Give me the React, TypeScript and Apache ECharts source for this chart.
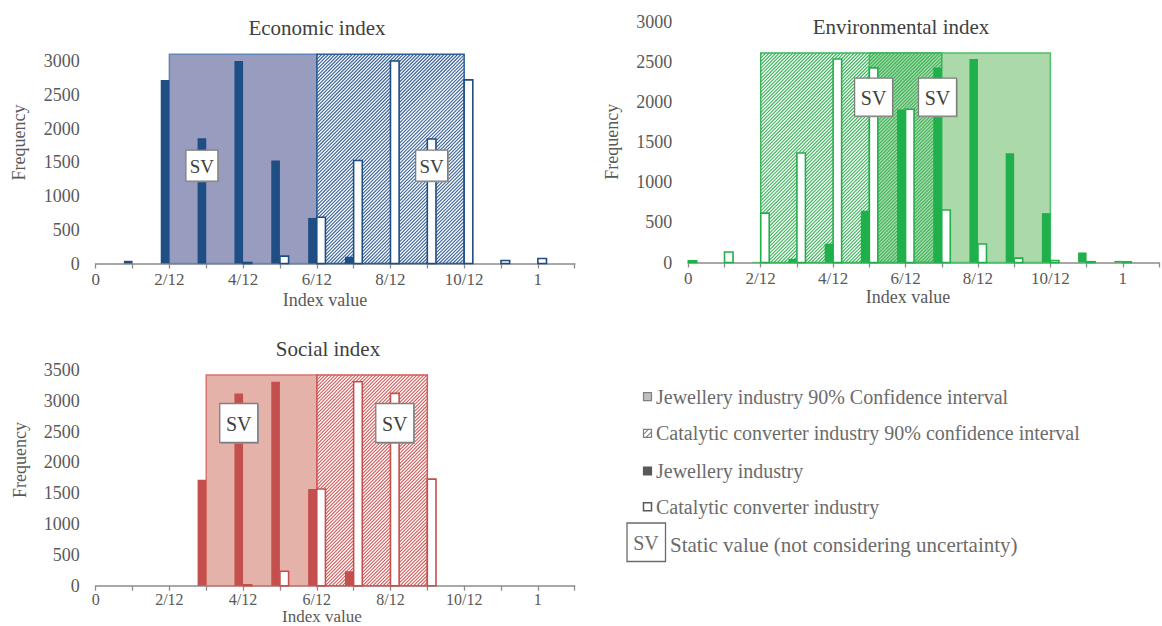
import React, { useEffect, useRef } from 'react';
import * as echarts from 'echarts';

// ---------- data ----------
const bins = [0, 1, 2, 3, 4, 5, 6, 7, 8, 9, 10, 11, 12]; // index value in twelfths
const xTickLabels = ['0', '', '2/12', '', '4/12', '', '6/12', '', '8/12', '', '10/12', '', '1', ''];

const econJewellery = [0, 40, 2720, 1855, 3000, 1525, 675, 100, 0, 0, 0, 0, 0];
const econCatalytic = [0, 0, 0, 0, 15, 110, 685, 1525, 3000, 1845, 2720, 45, 75];
const econJewelleryCI = [2, 6];
const econCatalyticCI = [6, 10];
const econCITop = 3100;
const econSVBins = [3, 9]; // [jewellery, catalytic]
const econSVLevel = 1450;

const envJewellery = [0, 0, 8, 45, 235, 645, 1905, 2430, 2535, 1360, 615, 125, 20];
const envCatalytic = [20, 130, 615, 1365, 2535, 2425, 1910, 655, 230, 55, 25, 10, 8];
const envJewelleryCI = [5, 10];
const envCatalyticCI = [2, 7];
const envCITop = 2610;
const envSVBins = [7, 5];
const envSVLevel = 2060;

const socJewellery = [0, 0, 0, 1720, 3120, 3310, 1570, 235, 0, 0, 0, 0, 0];
const socCatalytic = [0, 0, 0, 0, 15, 235, 1570, 3310, 3120, 1730, 0, 0, 0];
const socJewelleryCI = [3, 6];
const socCatalyticCI = [6, 9];
const socCITop = 3420;
const socSVBins = [4, 8];
const socSVLevel = 2640;

const legendLabels = [
  'Jewellery industry 90% Confidence interval',
  'Catalytic converter industry 90% confidence interval',
  'Jewellery industry',
  'Catalytic converter industry',
  'Static value (not considering uncertainty)',
];

// ---------- styling / layout ----------
const BAR_W = 0.235;
const FONT = 'Liberation Serif';
const LABEL_COLOR = '#595959';
const TITLE_COLOR = '#404040';

const panels = [
  {
    title: 'Economic index', jewellery: econJewellery, catalytic: econCatalytic,
    jCI: econJewelleryCI, cCI: econCatalyticCI, ciTop: econCITop, svBins: econSVBins, svLevel: econSVLevel,
    yMax: 3100, xMax: 13,
    grid: { left: 95.7, top: 54.25, width: 479, height: 209.25 },
    bar: '#1f4e85', ciFill: '#989dbf', ciBorder: '#6485b8', hatch: '#3a6399', hatchBorder: '#2e5e97',
    sv: [32, 31], svFont: 19, labelFont: 17, labelMargin: 7, nameFont: 18,
    titlePos: [317, 28], xNamePos: [325, 300], yNamePos: [18.5, 142.5],
  },
  {
    title: 'Environmental index', jewellery: envJewellery, catalytic: envCatalytic,
    jCI: envJewelleryCI, cCI: envCatalyticCI, ciTop: envCITop, svBins: envSVBins, svLevel: envSVLevel,
    yMax: 3000, xMax: 13,
    grid: { left: 688.3, top: 21.7, width: 479, height: 240.8 },
    bar: '#20b04b', ciFill: '#abd9aa', ciBorder: '#4cc06a', hatch: '#3bb55a', hatchBorder: '#3bb55a',
    sv: [38, 38], svFont: 20, labelFont: 17, labelMargin: 7, nameFont: 18,
    titlePos: [901, 27], xNamePos: [908, 297], yNamePos: [611.5, 141.7],
  },
  {
    title: 'Social index', jewellery: socJewellery, catalytic: socCatalytic,
    jCI: socJewelleryCI, cCI: socCatalyticCI, ciTop: socCITop, svBins: socSVBins, svLevel: socSVLevel,
    yMax: 3500, xMax: 13,
    grid: { left: 95.7, top: 370, width: 479, height: 215.7 },
    bar: '#c4504e', ciFill: '#e4b2a8', ciBorder: '#d97470', hatch: '#d05c5a', hatchBorder: '#d05c5a',
    sv: [38, 39], svFont: 20, labelFont: 16, labelMargin: 6, nameFont: 17,
    titlePos: [328, 349], xNamePos: [322, 616], yNamePos: [20, 460],
  },
];

function textStyle(text: string, size: number, color: string, align = 'center') {
  return {
    text, fontSize: size, fontFamily: FONT, fill: color,
    align, textAlign: align, verticalAlign: 'middle', textVerticalAlign: 'middle',
  };
}

function buildOption() {
  const series: any[] = [];
  panels.forEach((p, i) => {
    // solid CI (jewellery)
    series.push({
      type: 'custom', xAxisIndex: i, yAxisIndex: i, silent: true, z: 1, clip: false,
      dimensions: ['x0', 'x1', 'top'], encode: { x: [0, 1], y: 2 },
      data: [[p.jCI[0], p.jCI[1], p.ciTop]],
      renderItem: (params: any, api: any) => {
        const a = api.coord([api.value(0), api.value(2)]);
        const b = api.coord([api.value(1), 0]);
        return {
          type: 'rect',
          shape: { x: a[0], y: a[1], width: b[0] - a[0], height: b[1] - a[1] },
          style: { fill: p.ciFill, stroke: p.ciBorder, lineWidth: 1.5 },
        };
      },
    });
    // hatched CI (catalytic)
    series.push({
      type: 'custom', xAxisIndex: i, yAxisIndex: i, silent: true, z: 2, clip: false,
      dimensions: ['x0', 'x1', 'top'], encode: { x: [0, 1], y: 2 },
      data: [[p.cCI[0], p.cCI[1], p.ciTop]],
      renderItem: (params: any, api: any) => {
        const a = api.coord([api.value(0), api.value(2)]);
        const b = api.coord([api.value(1), 0]);
        const L = a[0], T = a[1], R = b[0], B = b[1];
        const children: any[] = [];
        const step = 3.4;
        for (let c = L + T + step / 2; c < R + B; c += step) {
          const xa = Math.max(L, c - B);
          const xb = Math.min(R, c - T);
          if (xb > xa) {
            children.push({
              type: 'line',
              shape: { x1: xa, y1: c - xa, x2: xb, y2: c - xb },
              style: { stroke: p.hatch, lineWidth: 1.1 },
            });
          }
        }
        children.push({
          type: 'rect',
          shape: { x: L, y: T, width: R - L, height: B - T },
          style: { fill: 'none', stroke: p.hatchBorder, lineWidth: 1.5 },
        });
        return { type: 'group', children };
      },
    });
    // bars
    const mkBars = (values: number[], kind: 'J' | 'C') => ({
      type: 'custom', xAxisIndex: i, yAxisIndex: i, silent: true, z: 5, clip: false,
      dimensions: ['bin', 'freq'], encode: { x: 0, y: 1 },
      data: values.map((v, k) => [bins[k], v]),
      renderItem: (params: any, api: any) => {
        const bin = api.value(0);
        const v = api.value(1);
        if (!v) return { type: 'group', children: [] };
        const x0 = kind === 'J' ? bin - BAR_W : bin;
        const x1 = kind === 'J' ? bin : bin + BAR_W;
        const a = api.coord([x0, v]);
        const b = api.coord([x1, 0]);
        return {
          type: 'rect',
          shape: { x: a[0], y: a[1], width: b[0] - a[0], height: b[1] - a[1] },
          style: kind === 'J'
            ? { fill: p.bar }
            : { fill: '#ffffff', stroke: p.bar, lineWidth: 1.6 },
        };
      },
    });
    series.push(mkBars(p.jewellery, 'J'));
    series.push(mkBars(p.catalytic, 'C'));
    // static value boxes
    series.push({
      type: 'custom', xAxisIndex: i, yAxisIndex: i, silent: true, z: 10, clip: false,
      dimensions: ['bin', 'level', 'kind'], encode: { x: 0, y: 1 },
      data: [[p.svBins[0], p.svLevel, 0], [p.svBins[1], p.svLevel, 1]],
      renderItem: (params: any, api: any) => {
        const bin = api.value(0);
        const kind = api.value(2);
        const cx = kind === 0 ? bin - BAR_W / 2 : bin + BAR_W / 2;
        const c = api.coord([cx, api.value(1)]);
        const w = p.sv[0], h = p.sv[1];
        return {
          type: 'group',
          children: [
            { type: 'rect', shape: { x: c[0] - w / 2 + 1.2, y: c[1] - h / 2 + 1.2, width: w, height: h }, style: { fill: '#9a9a9a' } },
            { type: 'rect', shape: { x: c[0] - w / 2, y: c[1] - h / 2, width: w, height: h }, style: { fill: '#ffffff', stroke: '#7f7f7f', lineWidth: 1.3 } },
            { type: 'text', style: { ...textStyle('SV', p.svFont, '#404040'), x: c[0], y: c[1] + 1 } },
          ],
        };
      },
    });
  });

  const graphic: any[] = [];
  panels.forEach((p) => {
    graphic.push({ type: 'text', silent: true, style: { ...textStyle(p.title, 21, TITLE_COLOR), x: p.titlePos[0], y: p.titlePos[1] } });
    graphic.push({ type: 'text', silent: true, style: { ...textStyle('Index value', p.nameFont, LABEL_COLOR), x: p.xNamePos[0], y: p.xNamePos[1] } });
    graphic.push({
      type: 'text', silent: true, x: p.yNamePos[0], y: p.yNamePos[1], rotation: Math.PI / 2,
      style: { ...textStyle('Frequency', 18, LABEL_COLOR), x: 0, y: 0 },
    });
  });

  // legend
  const legendRows = [396.7, 433.3, 471, 506.7];
  const iconX = 643.5, iconS = 8, textX = 656;
  const LEG_COLOR = '#6b6b6b';
  graphic.push({ type: 'rect', silent: true, shape: { x: iconX, y: legendRows[0] - iconS / 2, width: iconS, height: iconS }, style: { fill: '#bfbfbf', stroke: '#7f7f7f', lineWidth: 1.2 } });
  graphic.push({
    type: 'group', silent: true,
    children: [
      { type: 'rect', shape: { x: iconX, y: legendRows[1] - iconS / 2, width: iconS, height: iconS }, style: { fill: '#ffffff', stroke: '#7f7f7f', lineWidth: 1.2 } },
      { type: 'line', shape: { x1: iconX, y1: legendRows[1] + 1, x2: iconX + 5, y2: legendRows[1] - 4 }, style: { stroke: '#7f7f7f', lineWidth: 1.1 } },
      { type: 'line', shape: { x1: iconX + 2.5, y1: legendRows[1] + 4, x2: iconX + 8, y2: legendRows[1] - 1.5 }, style: { stroke: '#7f7f7f', lineWidth: 1.1 } },
    ],
  });
  graphic.push({ type: 'rect', silent: true, shape: { x: iconX, y: legendRows[2] - iconS / 2, width: iconS, height: iconS }, style: { fill: '#595959', stroke: '#595959', lineWidth: 1.2 } });
  graphic.push({ type: 'rect', silent: true, shape: { x: iconX, y: legendRows[3] - iconS / 2, width: iconS, height: iconS }, style: { fill: '#ffffff', stroke: '#595959', lineWidth: 1.5 } });
  legendRows.forEach((y, k) => {
    graphic.push({ type: 'text', silent: true, style: { ...textStyle(legendLabels[k], 20, LEG_COLOR, 'left'), x: textX, y } });
  });
  graphic.push({ type: 'rect', silent: true, shape: { x: 627, y: 523, width: 38.5, height: 38.5 }, style: { fill: '#ffffff', stroke: '#6b6b6b', lineWidth: 1.3 } });
  graphic.push({ type: 'text', silent: true, style: { ...textStyle('SV', 20, LEG_COLOR), x: 646, y: 543 } });
  graphic.push({ type: 'text', silent: true, style: { ...textStyle(legendLabels[4], 21, LEG_COLOR, 'left'), x: 670, y: 545 } });

  return {
    animation: false,
    backgroundColor: '#ffffff',
    grid: panels.map((p) => ({ ...p.grid, containLabel: false })),
    xAxis: panels.map((p, i) => ({
      type: 'value', gridIndex: i, min: 0, max: p.xMax, interval: 1,
      splitLine: { show: false },
      axisLine: { show: true, lineStyle: { color: '#8c8c8c', width: 1.5 } },
      axisTick: { show: true, length: 5, lineStyle: { color: '#8c8c8c', width: 1.3 } },
      axisLabel: {
        show: true, interval: 0, margin: p.labelMargin, color: LABEL_COLOR, fontSize: p.labelFont, fontFamily: FONT,
        formatter: (v: number) => xTickLabels[Math.round(v)] ?? '',
      },
    })),
    yAxis: panels.map((p, i) => ({
      type: 'value', gridIndex: i, min: 0, max: p.yMax, interval: 500,
      splitLine: { show: false }, axisLine: { show: false }, axisTick: { show: false },
      axisLabel: {
        show: true, margin: 16, color: LABEL_COLOR, fontSize: 18, fontFamily: FONT,
        formatter: (v: number) => (v % 500 === 0 ? String(v) : ''),
      },
    })),
    series,
    graphic,
  };
}

export default function App() {
  const ref = useRef<HTMLDivElement>(null);
  useEffect(() => {
    const chart = echarts.init(ref.current!, null, { renderer: 'svg' });
    chart.setOption(buildOption() as any);
    return () => chart.dispose();
  }, []);
  return <div ref={ref} style={{ position: 'absolute', left: 0, top: 0, width: 1162, height: 626 }} />;
}
